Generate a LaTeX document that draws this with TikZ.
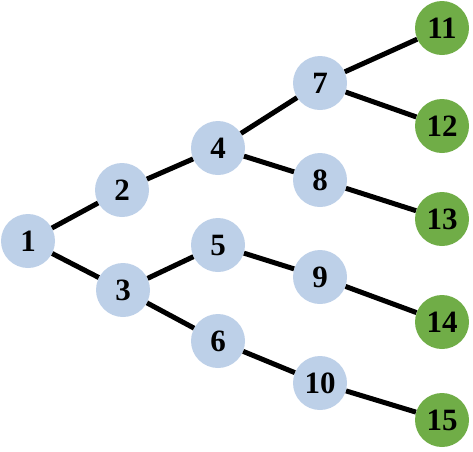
\documentclass[tikz,border=0pt]{standalone}
\usepackage{fontspec}
\setmainfont{Liberation Serif}
\definecolor{nblue}{RGB}{189,208,232}
\definecolor{ngreen}{RGB}{112,173,71}
\begin{document}
\begin{tikzpicture}[x=1pt,y=-1pt,
  inner/.style={circle,fill=nblue,minimum size=54pt,inner sep=0pt,font=\fontsize{31}{31}\selectfont\bfseries},
  leaf/.style={inner,fill=ngreen},
  edge/.style={line width=5pt,black}]
\useasboundingbox (0,0) rectangle (473,451);
\node[inner] (n1) at (28,241) {1};
\node[inner] (n2) at (122,190) {2};
\node[inner] (n3) at (123,290) {3};
\node[inner] (n4) at (218,148) {4};
\node[inner] (n5) at (218,245) {5};
\node[inner] (n6) at (218,341) {6};
\node[inner] (n7) at (320,83) {7};
\node[inner] (n8) at (320,180) {8};
\node[inner] (n9) at (320,277) {9};
\node[inner] (n10) at (320,383) {10};
\node[leaf] (n11) at (442,28) {11};
\node[leaf] (n12) at (442,126) {12};
\node[leaf] (n13) at (442,219) {13};
\node[leaf] (n14) at (442,322) {14};
\node[leaf] (n15) at (442,420) {15};
\foreach \a/\b in {n1/n2,n1/n3,n2/n4,n3/n5,n3/n6,n4/n7,n4/n8,n5/n9,n6/n10,n7/n11,n7/n12,n8/n13,n9/n14,n10/n15}
  \draw[edge] (\a) -- (\b);
\end{tikzpicture}
\end{document}
